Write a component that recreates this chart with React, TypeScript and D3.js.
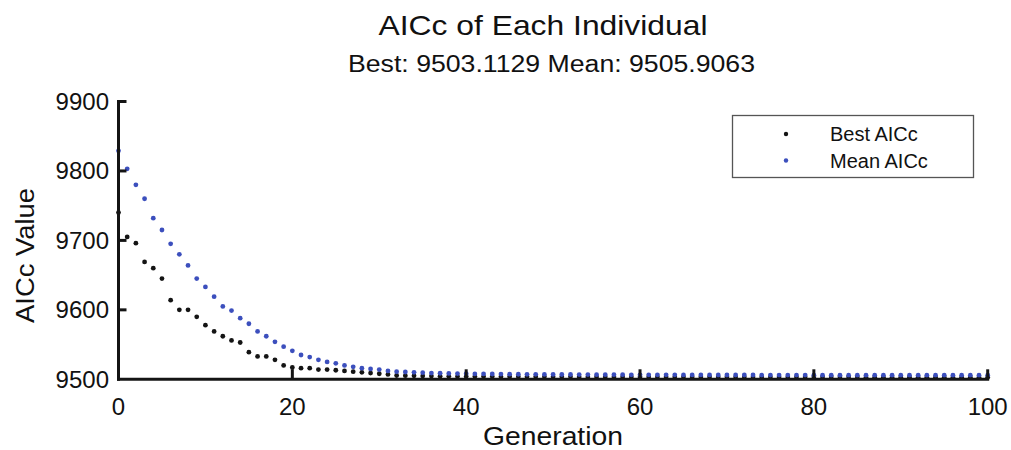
import React from "react";
import * as d3 from "d3";

const generations: number[] = d3.range(0, 101);

const bestAICc: number[] = [
  9740, 9705, 9696, 9669, 9660, 9645, 9614, 9600, 9600, 9590,
  9578, 9569, 9562, 9556, 9553, 9539, 9533, 9533, 9528, 9520,
  9517, 9516, 9516, 9514, 9514, 9513, 9512, 9511, 9510, 9509,
  9508, 9507, 9505.5, 9505.2, 9505, 9504.8, 9504.6, 9504.5, 9504.3, 9504.2,
  9504,
  9504, 9503.9, 9503.9, 9503.8, 9503.8, 9503.7, 9503.7, 9503.6, 9503.6, 9503.5,
  9503.5, 9503.5, 9503.4, 9503.4, 9503.4, 9503.4, 9503.3, 9503.3, 9503.3, 9503.3,
  9503.3, 9503.3, 9503.3, 9503.3, 9503.3, 9503.3, 9503.3, 9503.3, 9503.3, 9503.3,
  9503.2, 9503.2, 9503.2, 9503.2, 9503.2, 9503.2, 9503.2, 9503.2, 9503.2, 9503.2,
  9503.2, 9503.2, 9503.2, 9503.2, 9503.2, 9503.1129, 9503.1129, 9503.1129, 9503.1129, 9503.1129,
  9503.1129, 9503.1129, 9503.1129, 9503.1129, 9503.1129, 9503.1129, 9503.1129, 9503.1129, 9503.1129, 9503.1129,
];

const meanAICc: number[] = [
  9829, 9803, 9780, 9760, 9732, 9715, 9695, 9680, 9664, 9645,
  9633, 9619, 9605, 9599, 9588, 9580, 9569, 9562, 9554, 9547,
  9541, 9535, 9532, 9528, 9525, 9523, 9520, 9518, 9516, 9515,
  9514, 9512, 9511, 9510.5, 9510, 9509.5, 9509, 9508.7, 9508.4, 9508.2,
  9508,
  9507.8, 9507.7, 9507.6, 9507.5, 9507.4, 9507.3, 9507.2, 9507.1, 9507.0, 9507.0,
  9506.9, 9506.9, 9506.8, 9506.8, 9506.7, 9506.7, 9506.6, 9506.6, 9506.5, 9506.5,
  9506.5, 9506.4, 9506.4, 9506.4, 9506.3, 9506.3, 9506.3, 9506.3, 9506.2, 9506.2,
  9506.2, 9506.2, 9506.2, 9506.1, 9506.1, 9506.1, 9506.1, 9506.1, 9506.1, 9506.0,
  9506.0, 9506.0, 9506.0, 9506.0, 9506.0, 9506.0, 9506.0, 9506.0, 9506.0, 9506.0,
  9505.95, 9505.95, 9505.95, 9505.95, 9505.93, 9505.93, 9505.92, 9505.91, 9505.91, 9505.9063,
];

const xTicks: number[] = [0, 20, 40, 60, 80, 100];
const yTicks: number[] = [9500, 9600, 9700, 9800, 9900];

const titleText = "AICc of Each Individual";
const subtitleText = "Best: 9503.1129 Mean: 9505.9063";
const xLabel = "Generation";
const yLabel = "AICc Value";
const legendLabels: string[] = ["Best AICc", "Mean AICc"];

const BLACK = "#141414";
const BLUE = "#3c4fbd";
const FONT = "'Liberation Sans', Arial, Helvetica, sans-serif";

export default function App() {
  const W = 1011;
  const H = 450;
  const x = d3.scaleLinear().domain([0, 100]).range([118.5, 987.7]);
  const y = d3.scaleLinear().domain([9500, 9900]).range([379.3, 101.5]);
  const axisW = 3;

  const series = [
    { name: legendLabels[0], values: bestAICc, color: BLACK },
    { name: legendLabels[1], values: meanAICc, color: BLUE },
  ];

  return (
    <svg
      width={W}
      height={H}
      style={{ position: "absolute", left: 0, top: 0, background: "#fff" }}
      fontFamily={FONT}
    >
      <rect x={0} y={0} width={W} height={H} fill="#fff" />
      {/* Title */}
      <text x={543} y={35} textAnchor="middle" fontSize={28} fill="#111"
        textLength={329} lengthAdjust="spacingAndGlyphs">{titleText}</text>
      <text x={551.5} y={72} textAnchor="middle" fontSize={23} fill="#111"
        textLength={407} lengthAdjust="spacingAndGlyphs">{subtitleText}</text>

      {/* data points */}
      {series.map((s) => (
        <g key={s.name}>
          {s.values.map((v, i) => (
            <circle key={i} cx={x(generations[i])} cy={y(v)} r={2.4} fill={s.color} />
          ))}
        </g>
      ))}

      {/* axes */}
      <line x1={x(0)} x2={x(0)} y1={y(9900) - 1.5} y2={y(9500) + 1.5} stroke={BLACK} strokeWidth={axisW} />
      <line x1={x(0) - 1.5} x2={x(100) + 1.5} y1={y(9500)} y2={y(9500)} stroke={BLACK} strokeWidth={axisW} />
      {yTicks.filter((t) => t !== 9500).map((t) => (
        <line key={t} x1={x(0)} x2={x(0) + 8} y1={y(t)} y2={y(t)} stroke={BLACK} strokeWidth={axisW} />
      ))}
      {xTicks.filter((t) => t !== 0).map((t) => (
        <line key={t} x1={x(t)} x2={x(t)} y1={y(9500)} y2={y(9500) - 10} stroke={BLACK} strokeWidth={axisW} />
      ))}

      {/* tick labels */}
      {yTicks.map((t) => (
        <text key={t} x={109} y={y(t)} dy="0.35em" textAnchor="end" fontSize={24} fill="#111">
          {t}
        </text>
      ))}
      {xTicks.map((t) => (
        <text key={t} x={x(t)} y={415} textAnchor="middle" fontSize={24} fill="#111">
          {t}
        </text>
      ))}

      {/* axis labels */}
      <text x={553} y={445} textAnchor="middle" fontSize={25} fill="#111"
        textLength={140} lengthAdjust="spacingAndGlyphs">{xLabel}</text>
      <text transform="translate(34,255.5) rotate(-90)" textAnchor="middle" fontSize={25} fill="#111"
        textLength={135} lengthAdjust="spacingAndGlyphs">{yLabel}</text>

      {/* legend */}
      <rect x={732.5} y={115.5} width={241} height={62} fill="#fff" stroke="#555" strokeWidth={1.3} />
      {series.map((s, i) => (
        <g key={s.name}>
          <circle cx={786} cy={134 + i * 26.5} r={2.2} fill={s.color} />
          <text x={830} y={134 + i * 26.5} dy="0.35em" fontSize={20} fill="#111">
            {s.name}
          </text>
        </g>
      ))}
    </svg>
  );
}
